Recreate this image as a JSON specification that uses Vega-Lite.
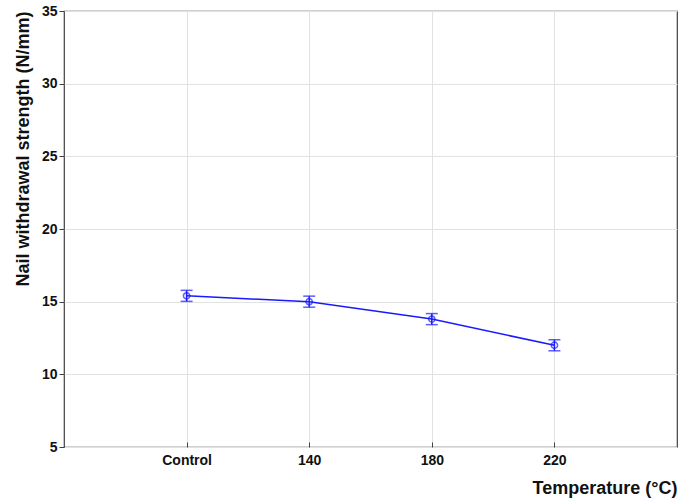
{
  "$schema": "https://vega.github.io/schema/vega-lite/v6.json",
  "width": 613,
  "height": 436,
  "autosize": {"type": "none"},
  "padding": {"left": 64, "top": 11, "right": 6, "bottom": 52},
  "background": "white",
  "config": {
    "view": {"stroke": "#404040", "strokeWidth": 1.2},
    "font": "Liberation Sans",
    "axis": {
      "labelFont": "Liberation Sans",
      "titleFont": "Liberation Sans",
      "labelFontWeight": "bold",
      "titleFontWeight": "bold",
      "labelFontSize": 14,
      "titleFontSize": 18,
      "labelColor": "#111",
      "titleColor": "#111",
      "gridColor": "#e2e2e2",
      "gridWidth": 1,
      "domain": false,
      "tickColor": "#404040"
    }
  },
  "data": {
    "values": [
      {"temp": "Control", "mean": 15.4, "lo": 15.02, "hi": 15.78},
      {"temp": "140", "mean": 15.0, "lo": 14.62, "hi": 15.38},
      {"temp": "180", "mean": 13.8, "lo": 13.42, "hi": 14.18},
      {"temp": "220", "mean": 12.0, "lo": 11.62, "hi": 12.38}
    ]
  },
  "encoding": {
    "x": {
      "field": "temp",
      "type": "ordinal",
      "sort": ["Control", "140", "180", "220"],
      "scale": {"type": "point", "padding": 1},
      "axis": {
        "title": "Temperature (°C)",
        "titleAnchor": "end",
        "titlePadding": 12,
        "labelAngle": 0,
        "labelPadding": 11,
        "tickSize": -5,
        "grid": true
      }
    }
  },
  "layer": [
    {
      "mark": {"type": "line", "color": "#1a1aff", "strokeWidth": 1.5},
      "encoding": {
        "y": {
          "field": "mean",
          "type": "quantitative",
          "scale": {"domain": [5, 35], "nice": false, "zero": false},
          "axis": {
            "title": "Nail withdrawal strength (N/mm)",
            "titleAnchor": "end",
            "titlePadding": 9,
            "values": [5, 10, 15, 20, 25, 30, 35],
            "tickSize": 5,
            "labelPadding": 2,
            "grid": true
          }
        }
      }
    },
    {
      "mark": {"type": "rule", "color": "#1a1aff", "strokeWidth": 1.5},
      "encoding": {
        "y": {"field": "lo", "type": "quantitative"},
        "y2": {"field": "hi"}
      }
    },
    {
      "mark": {"type": "tick", "color": "#1a1aff", "thickness": 1.5, "size": 12},
      "encoding": {"y": {"field": "lo", "type": "quantitative"}}
    },
    {
      "mark": {"type": "tick", "color": "#1a1aff", "thickness": 1.5, "size": 12},
      "encoding": {"y": {"field": "hi", "type": "quantitative"}}
    },
    {
      "mark": {"type": "point", "shape": "circle", "filled": false, "color": "#1a1aff", "size": 40, "strokeWidth": 1.5},
      "encoding": {"y": {"field": "mean", "type": "quantitative"}}
    }
  ]
}
